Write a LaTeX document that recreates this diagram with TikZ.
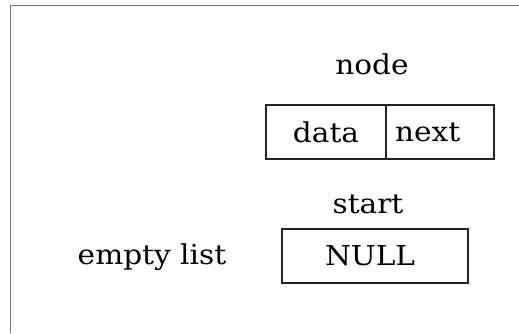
\documentclass[tikz,border=0pt]{standalone}
\usepackage{fontspec}
\setmainfont{DejaVu Serif}[FakeStretch=1.08]
\usetikzlibrary{positioning}
\definecolor{framegray}{RGB}{112,112,112}
\definecolor{boxline}{RGB}{34,34,34}

\begin{document}
\begin{tikzpicture}[x=0.5pt,y=-0.5pt,font=\fontsize{13.7}{16}\selectfont,
  cell/.style={draw=boxline,line width=1pt,inner sep=0pt,outer sep=0pt,minimum height=27pt},
  lbl/.style={anchor=base,inner sep=0pt}]
  \useasboundingbox (0,0) rectangle (519,333);
  \draw[framegray] (10,333) -- (10,5) -- (519,5);
  % one list node: data | next
  \node[lbl] (nodelbl) at (372,74) {node};
  \node[cell,minimum width=60pt] (data) at (326,132) {data};
  \node[cell,minimum width=54pt,text width=45pt,align=left,right=0pt of data] (next) {next};
  % empty list
  \node[lbl] (startlbl) at (368,213) {start};
  \node[cell,minimum width=93pt,text width=50pt,align=left] (start) at (375,256) {NULL};
  \node[lbl] (emptylbl) at (152,264) {empty list};
\end{tikzpicture}
\end{document}
